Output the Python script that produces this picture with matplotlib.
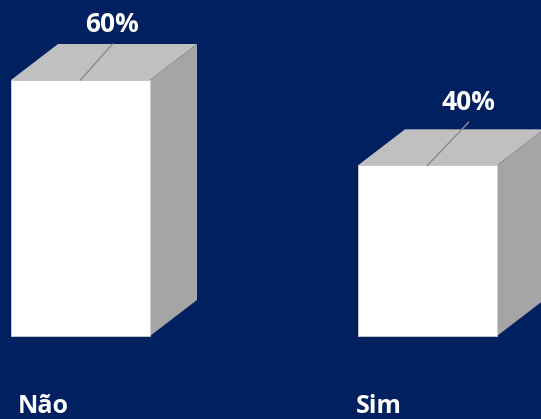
import matplotlib
matplotlib.use("Agg")
import matplotlib.pyplot as plt
from matplotlib.patches import Polygon

# data
categories = ["Não", "Sim"]
values = [60, 40]
labels = ["60%", "40%"]

bg = "#002060"
plt.rcParams['font.family'] = ['Open Sans', 'DejaVu Sans']

fig = plt.figure(figsize=(5.41, 4.19), dpi=100, facecolor=bg)
ax = fig.add_axes([0, 0, 1, 1])
ax.set_facecolor(bg)

# scale: 1 x unit = 347 px, 1 value unit = 256/60 px
px_y = 256 / 60.0
px_x = 347.0
ax.set_xlim(-80.5 / px_x, (541 - 80.5) / px_x)
ax.set_ylim(-(419 - 336) / px_y, 336 / px_y)

w = 139 / px_x
dx = 47 / px_x
dy = 36 / px_y

x = list(range(len(categories)))
ax.bar(x, values, width=w, color="white", edgecolor="#d0d0d0", linewidth=0.6, zorder=3)

for i, v in zip(x, values):
    l, r = i - w / 2, i + w / 2
    top = Polygon([(l, v), (r, v), (r + dx, v + dy), (l + dx, v + dy)],
                  closed=True, facecolor="#c0c0c0", edgecolor="none", zorder=2)
    side = Polygon([(r, 0), (r + dx, dy), (r + dx, v + dy), (r, v)],
                   closed=True, facecolor="#a5a5a5", edgecolor="none", zorder=2)
    ax.add_patch(top)
    ax.add_patch(side)

# value labels with leader lines
lx = [32 / px_x, 41 / px_x]
ly = [36 / px_y, 43 / px_y]
for i, v, t, ox, oy in zip(x, values, labels, lx, ly):
    ax.plot([i, i + ox], [v, v + oy], color="#8c8c8c", lw=1, zorder=4)
    ax.text(i + ox, v + oy + 20 / px_y, t, color="white", fontsize=19,
            fontweight="bold", ha="center", va="center", zorder=5)

# category labels
cx = [-37.5 / px_x, -49 / px_x]
for i, c, o in zip(x, categories, cx):
    ax.text(i + o, -(406 - 336) / px_y, c, color="white",
            fontsize=18, fontweight="bold", ha="center", va="center")

ax.axis("off")
fig.savefig("out.png", dpi=100, facecolor=bg)
